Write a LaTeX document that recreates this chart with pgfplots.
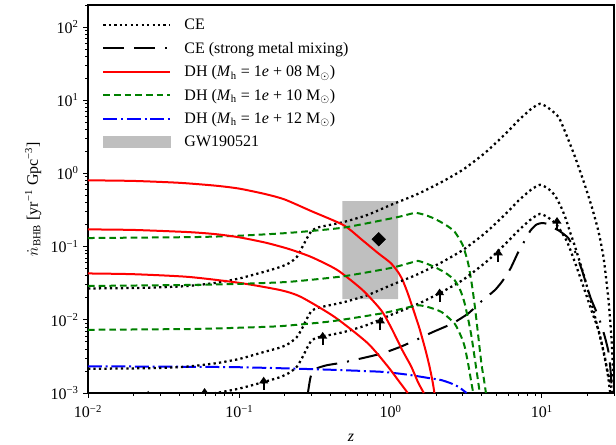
\documentclass[border=0pt]{standalone}
\usepackage{fontspec}
\setmainfont{Liberation Serif}
\usepackage{pgfplots}
\pgfplotsset{compat=1.18}
\usetikzlibrary{arrows.meta}

\definecolor{dhgreen}{RGB}{0,128,0}
\definecolor{gwgray}{RGB}{191,191,191}

% upward arrow (lower limit), drawn from the data point upwards
\pgfdeclareplotmark{uparrow}{%
  \draw[line width=1.6pt,-{Triangle[length=5pt,width=6.5pt]}] (0pt,0pt) -- (0pt,10pt);}

\pgfplotsset{
  ce/.style={black, line width=1.7pt, dash pattern=on 1.7pt off 2.4pt, smooth, tension=0.35},
  cemix/.style={black, line width=1.5pt, dash pattern=on 15.75pt off 7.5pt on 15.75pt off 7.5pt on 1.5pt off 7.5pt, smooth, tension=0.35},
  dh8/.style={red, line width=1.5pt, smooth, tension=0.4},
  dh10/.style={dhgreen, line width=1.5pt, dash pattern=on 5pt off 3pt, smooth, tension=0.35},
  dh12/.style={blue, line width=1.5pt, dash pattern=on 10.5pt off 2.8pt on 1.5pt off 2.8pt, smooth, tension=0.35},
}

\begin{document}
\begin{tikzpicture}
\useasboundingbox (-66pt,-38.25pt) rectangle (396pt,294.75pt);
\begin{axis}[
  scale only axis, width=394.5pt, height=291pt,
  xmode=log, ymode=log,
  xmin=0.01, xmax=30, ymin=1e-3, ymax=200,
  xtick={0.01,0.1,1,10},
  xticklabels={10\textsuperscript{−2},10\textsuperscript{−1},10\textsuperscript{0},10\textsuperscript{1}},
  ytick={1e-3,1e-2,1e-1,1,10,100},
  yticklabels={10\textsuperscript{−3},10\textsuperscript{−2},10\textsuperscript{−1},10\textsuperscript{0},10\textsuperscript{1},10\textsuperscript{2}},
  minor xtick={0.02,0.03,0.04,0.05,0.06,0.07,0.08,0.09,0.2,0.3,0.4,0.5,0.6,0.7,0.8,0.9,2,3,4,5,6,7,8,9,20,30},
  minor ytick={0.002,0.003,0.004,0.005,0.006,0.007,0.008,0.009,0.02,0.03,0.04,0.05,0.06,0.07,0.08,0.09,0.2,0.3,0.4,0.5,0.6,0.7,0.8,0.9,2,3,4,5,6,7,8,9,20,30,40,50,60,70,80,90,200},
  tick align=outside, xtick pos=bottom, ytick pos=left,
  major tick length=3.5pt, minor tick length=2pt,
  every tick/.style={black, line width=0.6pt},
  axis line style={line width=0.8pt},
  tick label style={font=\fontsize{12}{14}\selectfont},
  xticklabel style={yshift=-2pt},
  label style={font=\fontsize{12}{14}\selectfont},
  xlabel={\textit{z}},
  xlabel style={yshift=-5pt},
  ylabel={$\dot{n}$\textsubscript{BHB} [yr\textsuperscript{−1} Gpc\textsuperscript{−3}]},
  clip marker paths=true,
  legend cell align=left,
  legend image code/.code={\draw[#1] (0pt,0pt) -- (50pt,0pt);},
  legend style={draw=none, fill=none, inner sep=0pt, outer sep=0pt,
    at={(0.027,0.968)}, anchor=north west,
    font=\fontsize{12}{14}\selectfont, row sep=6.25pt,
    nodes={inner sep=0pt, text height=9.3pt, text depth=2pt},
    /tikz/every odd column/.append style={column sep=10pt}},
]

% GW190521 box
\addplot[fill=gwgray, draw=none, forget plot] coordinates {
  (0.48,0.0192) (1.12,0.0192) (1.12,0.42) (0.48,0.42) (0.48,0.0192)};

% CE (top)
\addplot[ce] coordinates {
  (0.01,0.0268)(0.02,0.0272)(0.03,0.0278)(0.046,0.029)(0.07,0.032)(0.1,0.0367)
  (0.15,0.046)(0.188,0.053)(0.215,0.06)(0.24,0.072)(0.26,0.097)(0.28,0.13)
  (0.30,0.163)(0.325,0.18)(0.35,0.188)(0.49,0.217)(0.7,0.27)(1.0,0.37)
  (1.5,0.52)(2.17,0.76)(3.0,1.12)(4.0,1.75)(4.65,2.29)(6.0,3.8)(7.0,5.3)
  (8.5,7.6)(9.73,8.95)(11.0,7.9)(12.9,5.89)(14.5,3.4)(16.6,1.67)(19.0,0.75)
  (21.4,0.348)(23.7,0.16)(25.6,0.07)(27.5,0.02)(28.8,0.006)(29.6,0.002)(30,0.001)};
\addlegendentry{CE}

% CE (strong metal mixing)
\addplot[cemix] coordinates {
  (0.282,0.0009)(0.288,0.0012)(0.295,0.0016)(0.305,0.002)(0.33,0.0022)(0.38,0.0024)
  (0.48,0.0026)(0.655,0.003)(0.89,0.0035)(1.17,0.0043)(1.5,0.0054)(1.9,0.0068)
  (2.56,0.0089)(3.26,0.0122)(4.0,0.018)(4.89,0.0254)(5.5,0.034)(6.2,0.05)
  (7.0,0.085)(7.7,0.12)(8.4,0.165)(9.2,0.2)(10.0,0.21)(10.8,0.205)(11.6,0.186)
  (13.0,0.165)(15.0,0.13)(16.6,0.085)(18.4,0.048)(21.0,0.02)(23.7,0.011)
  (26.0,0.006)(27.7,0.0035)(28.6,0.0018)(29.1,0.001)};
\addlegendentry{CE (strong metal mixing)}

% DH 1e8 (top)
\addplot[dh8] coordinates {
  (0.01,0.805)(0.02,0.79)(0.04,0.745)(0.07,0.68)(0.1,0.62)(0.15,0.52)(0.2,0.44)
  (0.3,0.305)(0.49,0.196)(0.65,0.123)(0.824,0.082)(1.0,0.06)(1.12,0.045)
  (1.2,0.035)(1.3,0.023)(1.45,0.0118)(1.56,0.0074)(1.7,0.0039)(1.81,0.0023)
  (1.9,0.0014)(1.95,0.001)};
\addlegendentry{DH (\textit{M}\textsubscript{h} = 1\textit{e} + 08 M$_{\odot}$)}

% DH 1e10 (top)
\addplot[dh10] coordinates {
  (0.01,0.131)(0.05,0.135)(0.1,0.141)(0.212,0.154)(0.49,0.182)(1.12,0.254)
  (1.35,0.28)(1.48,0.289)(1.7,0.27)(1.95,0.241)(2.3,0.2)(2.65,0.16)(3.0,0.105)
  (3.26,0.0587)(3.45,0.03)(3.61,0.0151)(3.8,0.006)(3.99,0.0025)(4.15,0.0015)(4.27,0.001)};
\addlegendentry{DH (\textit{M}\textsubscript{h} = 1\textit{e} + 10 M$_{\odot}$)}

% DH 1e12
\addplot[dh12] coordinates {
  (0.01,0.00232)(0.05,0.00228)(0.1,0.00225)(0.188,0.00218)(0.4,0.00208)
  (0.867,0.00195)(1.3,0.00178)(1.86,0.00158)(2.17,0.0015)(2.5,0.00136)
  (2.8,0.00122)(3.0,0.0011)(3.18,0.001)};
\addlegendentry{DH (\textit{M}\textsubscript{h} = 1\textit{e} + 12 M$_{\odot}$)}

% CE (middle and bottom)
\addplot[ce, forget plot] coordinates {
  (0.01,0.00214)(0.02,0.00217)(0.03,0.0022)(0.046,0.0023)(0.07,0.00255)(0.1,0.00292)
  (0.15,0.0037)(0.188,0.0042)(0.215,0.0048)(0.24,0.0058)(0.26,0.0076)(0.28,0.0104)
  (0.30,0.0132)(0.325,0.0144)(0.35,0.015)(0.49,0.0174)(0.7,0.0216)(1.0,0.0296)
  (1.5,0.0416)(2.17,0.0608)(3.0,0.0896)(4.0,0.14)(4.65,0.183)(6.0,0.304)(7.0,0.424)
  (8.5,0.6)(9.73,0.7)(11.0,0.62)(12.2,0.5)(13.3,0.36)(14.3,0.25)(15.5,0.15)
  (16.6,0.099)(19.0,0.04)(22.0,0.013)(25.0,0.0045)(27.0,0.0021)(28.5,0.0013)(29.2,0.001)};
\addplot[ce, forget plot] coordinates {
  (0.01,0.00084)(0.03,0.00087)(0.046,0.0009)(0.07,0.001)(0.1,0.00115)(0.15,0.00144)
  (0.188,0.00166)(0.215,0.0019)(0.24,0.00228)(0.26,0.003)(0.28,0.0041)(0.30,0.0052)
  (0.325,0.0057)(0.35,0.0059)(0.49,0.0068)(0.7,0.0085)(1.0,0.0116)(1.5,0.0163)
  (2.17,0.0238)(3.0,0.035)(4.0,0.055)(4.65,0.0716)(6.0,0.119)(7.0,0.166)(8.5,0.2375)
  (9.73,0.28)(11.0,0.25)(12.5,0.2)(14.6,0.12)(16.6,0.06)(19.0,0.027)(21.4,0.013)
  (23.7,0.0072)(26.0,0.0032)(27.5,0.0016)(28.3,0.001)};

% DH 1e8 (middle and bottom)
\addplot[dh8, forget plot] coordinates {
  (0.01,0.172)(0.02,0.169)(0.046,0.158)(0.07,0.148)(0.1,0.134)(0.15,0.113)
  (0.212,0.093)(0.3,0.072)(0.446,0.0477)(0.655,0.0254)(0.867,0.0135)(1.01,0.0078)
  (1.2,0.0038)(1.37,0.0023)(1.52,0.0014)(1.66,0.001)};
\addplot[dh8, forget plot] coordinates {
  (0.01,0.043)(0.02,0.042)(0.046,0.0386)(0.1,0.032)(0.188,0.0254)(0.255,0.0206)
  (0.425,0.011)(0.706,0.0048)(0.96,0.0023)(1.15,0.0014)(1.3,0.001)};

% DH 1e10 (middle and bottom)
\addplot[dh10, forget plot] coordinates {
  (0.01,0.029)(0.05,0.030)(0.1,0.031)(0.212,0.033)(0.49,0.0394)(1.0,0.051)
  (1.35,0.06)(1.52,0.0638)(1.75,0.058)(1.95,0.0528)(2.3,0.044)(2.65,0.0348)
  (2.9,0.025)(3.09,0.0168)(3.3,0.009)(3.43,0.0059)(3.6,0.003)(3.75,0.0017)(3.89,0.001)};
\addplot[dh10, forget plot] coordinates {
  (0.01,0.0073)(0.05,0.0075)(0.1,0.0078)(0.188,0.0082)(0.4,0.0095)(0.867,0.0122)
  (1.2,0.0142)(1.52,0.0158)(1.8,0.0148)(2.17,0.0128)(2.65,0.0089)(2.94,0.0058)
  (3.09,0.0043)(3.26,0.0025)(3.4,0.0015)(3.52,0.001)};

% lower-limit arrows
\addplot[only marks, mark=uparrow, black, forget plot] coordinates {
  (0.145,0.0011)(0.356,0.0045)(0.857,0.00724)
  (2.11,0.0176)(5.15,0.0617)(12.6,0.167)};
% arrows whose tails lie below the axis floor
\addplot[only marks, mark=uparrow, mark options={yshift=-8.3pt}, black, forget plot]
  coordinates {(0.025,0.001)};
\addplot[only marks, mark=uparrow, mark options={yshift=-6.2pt}, black, forget plot]
  coordinates {(0.059,0.001)};

% GW190521 point
\addplot[only marks, mark=square*, mark size=3.6pt, mark options={rotate=45}, black, forget plot]
  coordinates {(0.835,0.126)};

\addlegendimage{legend image code/.code={\fill[gwgray] (0pt,-4.35pt) rectangle (50pt,4.35pt);}}
\addlegendentry{GW190521}
\end{axis}
\end{tikzpicture}
\end{document}
